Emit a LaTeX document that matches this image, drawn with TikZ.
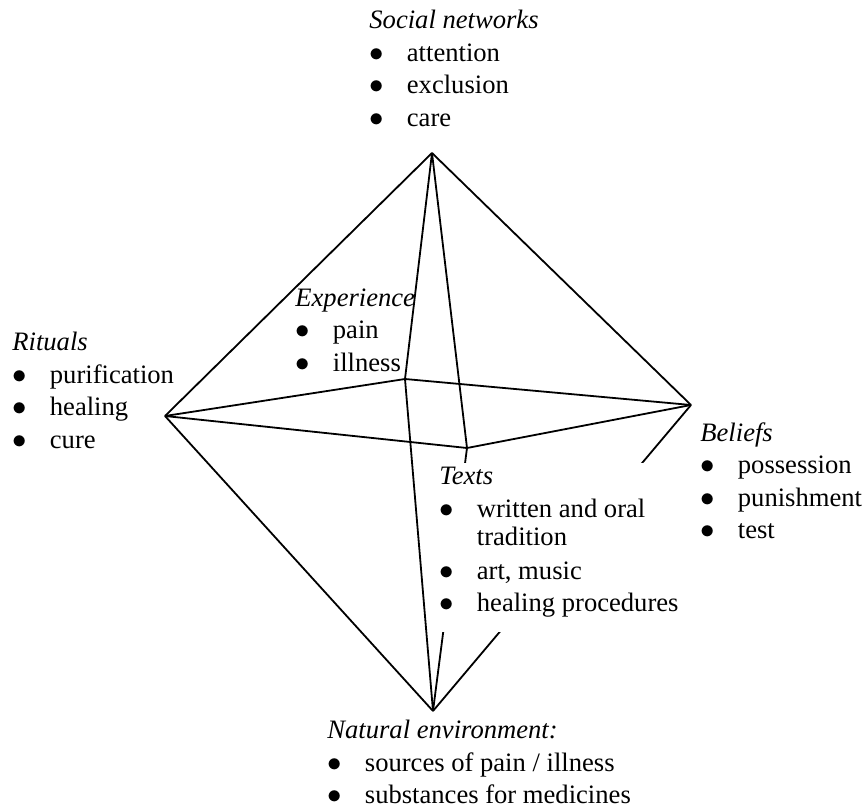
\documentclass[tikz,border=0pt]{standalone}
\usepackage{fontspec}
\setmainfont{Liberation Serif}
\usepackage{tikz}
\usetikzlibrary{positioning}
\tikzset{
  every node/.style={font=\fontsize{13.3}{16.25}\selectfont},
  block/.style={anchor=north west, inner sep=0pt, align=left}
}
\newcommand{\itm}[1]{\makebox[18.75pt][l]{$\bullet$}#1}

\begin{document}
\begin{tikzpicture}[x=0.5pt,y=-0.5pt]
  \useasboundingbox (0,0) rectangle (863,809);
  \begin{scope}
    \coordinate (top)   at (432,153);
    \coordinate (left)  at (165,416);
    \coordinate (right) at (691,405);
    \coordinate (back)  at (405,379);
    \coordinate (front) at (467,448);
    \coordinate (bot)   at (433,711);
  \end{scope}

  \begin{scope}[every edge/.style={draw=black,line width=0.9pt}]
    \path (top) edge (left);
    \path (top) edge (right);
    \path (top) edge (back);
    \path (top) edge (front);

    \path (left) edge (back);
    \path (back) edge (right);
    \path (left) edge (front);
    \path (front) edge (right);

    \path (left) edge (bot);
    \path (back) edge (bot);
    \path (front) edge (bot);
    \path (right) edge (bot);
  \end{scope}

  \begin{scope}
    \node[block] (social) at (369,10)
      {\textit{Social networks}\\ \itm{attention}\\ \itm{exclusion}\\ \itm{care}};
    \node[block] (exper) at (295,288)
      {\textit{Experience}\\ \itm{pain}\\ \itm{illness}};
    \node[block] (rituals) at (12,332)
      {\textit{Rituals}\\ \itm{purification}\\ \itm{healing}\\ \itm{cure}};
    \node[block] (beliefs) at (700,422)
      {\textit{Beliefs}\\ \itm{possession}\\ \itm{punishment}\\ \itm{test}};
    \node[block, fill=white, inner xsep=1.5pt, inner ysep=2pt, text depth=8pt] (texts) at (436,463)
      {\textit{Texts}\\ \itm{written and oral}\\[-2pt] \hspace*{18.75pt}tradition\\[0.5pt]
       \itm{art, music}\\ \itm{healing procedures}};
    \node[block] (nature) at (327,720)
      {\textit{Natural environment:}\\ \itm{sources of pain / illness}\\ \itm{substances for medicines}};
  \end{scope}
\end{tikzpicture}
\end{document}
